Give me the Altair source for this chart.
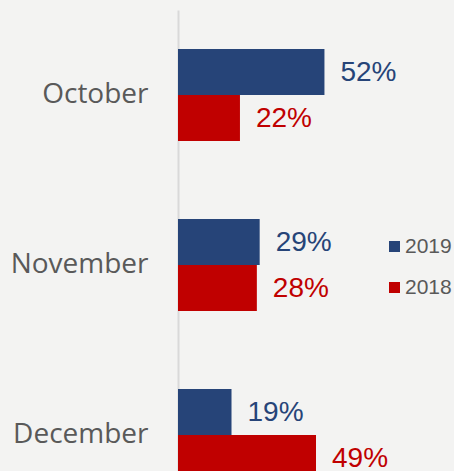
import altair as alt
import pandas as pd

months = ["October", "November", "December"]
years = ["2019", "2018"]
values_2019 = [52, 29, 19]
values_2018 = [22, 28, 49]
colors = ["#264478", "#C00000"]

rows = []
for i, m in enumerate(months):
    rows.append({"month": m, "year": "2019", "value": values_2019[i], "label": f"{values_2019[i]}%"})
    rows.append({"month": m, "year": "2018", "value": values_2018[i], "label": f"{values_2018[i]}%"})
df = pd.DataFrame(rows)

y_enc = alt.Y("month:N", sort=months, title=None,
              scale=alt.Scale(range=[0, 510], paddingInner=0.459, paddingOuter=0.2295),
              axis=alt.Axis(ticks=False, grid=False, labelPadding=30, labelFontSize=28,
                            labelFont="Open Sans", labelColor="#595959",
                            domainColor="#D9D9D9", domainWidth=2))
yoff = alt.YOffset("year:N", sort=years)
x_enc = alt.X("value:Q", axis=None, scale=alt.Scale(domain=[0, 98], nice=False))
color_scale = alt.Scale(domain=years, range=colors)

bars = alt.Chart(df).mark_bar(clip=True).encode(
    x=x_enc, y=y_enc, yOffset=yoff,
    color=alt.Color("year:N", scale=color_scale, sort=years, title=None,
                    legend=alt.Legend(orient="none", legendX=206, legendY=226,
                                      symbolType="square", symbolSize=121,
                                      labelFontSize=21, labelFont="Liberation Sans",
                                      labelColor="#595959", rowPadding=19,
                                      labelOffset=0, symbolStrokeWidth=0, padding=0)),
)

texts = alt.Chart(df).mark_text(align="left", baseline="middle", dx=16, dy=1, fontSize=28,
                                font="Liberation Sans", clip=True).encode(
    x=x_enc, y=y_enc, yOffset=yoff, text="label:N",
    color=alt.Color("year:N", scale=color_scale, legend=None),
)

chart = (bars + texts).properties(
    width=276, height=461,
    autosize=alt.AutoSizeParams(type="none"),
    padding={"left": 178, "top": 10, "right": 0, "bottom": 0},
    background="#F3F3F2",
).configure_view(stroke=None)

chart.save("out.html", embed_options={"renderer": "svg", "actions": False})
